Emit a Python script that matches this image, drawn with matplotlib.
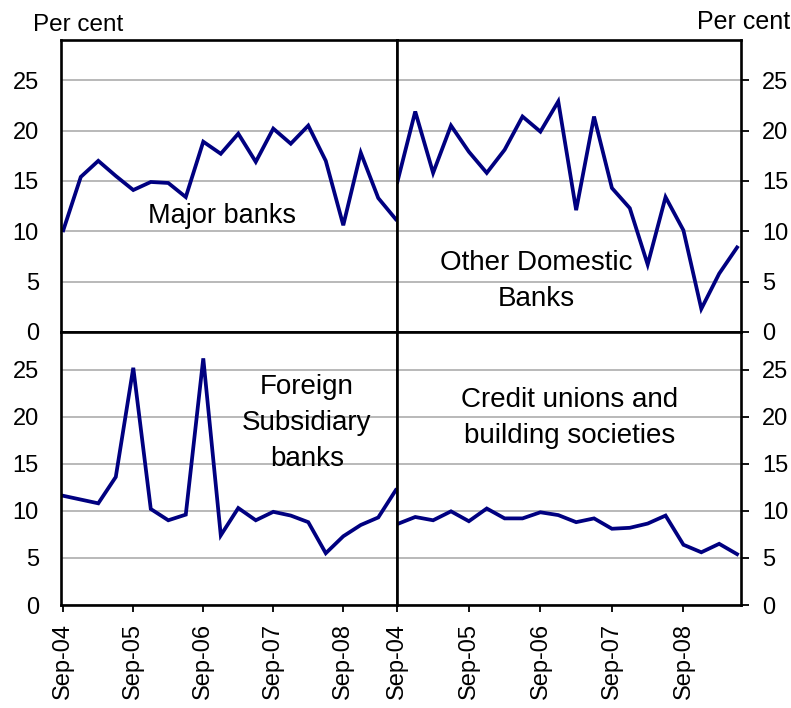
import matplotlib.pyplot as plt

plt.rcParams['font.family'] = ['Liberation Sans', 'DejaVu Sans']

quarters = ['Sep-04', 'Dec-04', 'Mar-05', 'Jun-05', 'Sep-05', 'Dec-05', 'Mar-06', 'Jun-06',
            'Sep-06', 'Dec-06', 'Mar-07', 'Jun-07', 'Sep-07', 'Dec-07', 'Mar-08', 'Jun-08',
            'Sep-08', 'Dec-08', 'Mar-09', 'Jun-09']

major = [10.1, 15.4, 17.0, 15.5, 14.1, 14.9, 14.8, 13.4, 18.9, 17.7,
         19.7, 16.9, 20.2, 18.7, 20.5, 17.0, 10.6, 17.8, 13.3, 11.2]
other_domestic = [14.9, 21.9, 15.8, 20.5, 17.9, 15.8, 18.1, 21.4, 19.9, 22.9,
                  12.1, 21.4, 14.3, 12.3, 6.7, 13.4, 10.1, 2.3, 5.8, 8.4]
foreign_sub = [11.6, 11.2, 10.8, 13.6, 25.2, 10.2, 9.0, 9.6, 26.2, 7.4,
               10.3, 9.0, 9.9, 9.5, 8.8, 5.5, 7.3, 8.5, 9.3, 12.2]
credit_unions = [8.6, 9.35, 9.0, 9.95, 8.9, 10.25, 9.2, 9.2, 9.85, 9.55,
                 8.8, 9.2, 8.1, 8.2, 8.65, 9.5, 6.4, 5.6, 6.5, 5.4]

yticks = [0, 5, 10, 15, 20, 25]
xtick_idx = [0, 4, 8, 12, 16]

LINE = '#000080'
W, H = 791, 708


def px_axes(fig, x0, x1, y0, y1):
    return fig.add_axes([x0 / W, 1 - y1 / H, (x1 - x0) / W, (y1 - y0) / H])


fig = plt.figure(figsize=(W / 100, H / 100), dpi=100, facecolor='w')
ax_tl = px_axes(fig, 61, 397, 40, 332)
ax_tr = px_axes(fig, 397, 741, 40, 332)
ax_bl = px_axes(fig, 61, 397, 332, 605)
ax_br = px_axes(fig, 397, 741, 332, 605)

panels = [
    (ax_tl, major, 'left', 'top'),
    (ax_tr, other_domestic, 'right', 'top'),
    (ax_bl, foreign_sub, 'left', 'bottom'),
    (ax_br, credit_unions, 'right', 'bottom'),
]

for ax, data, side, row in panels:
    ax.plot(range(len(data)), data, color=LINE, lw=2.7, solid_joinstyle='miter', zorder=3)
    ax.set_ylim(0, 29)
    if side == 'left':
        ax.set_xlim(-0.13, 19.07)
    else:
        ax.set_xlim(-0.02, 19.22)
    ax.set_yticks(yticks)
    ax.grid(axis='y', color='#a6a6a6', lw=1.1, zorder=1)
    for sp in ax.spines.values():
        sp.set_linewidth(1.9)
        sp.set_color('black')
        sp.set_zorder(4)
    if side == 'left':
        ax.tick_params(axis='y', left=True, right=False, labelleft=True, labelright=False,
                       length=0, pad=16, labelsize=17)
    else:
        ax.tick_params(axis='y', left=False, right=True, labelleft=False, labelright=True,
                       length=6, width=1.3, pad=9, labelsize=17, direction='out')
    if row == 'bottom':
        ax.set_xticks(xtick_idx)
        ax.set_xticklabels([quarters[i] for i in xtick_idx], rotation=90)
        ax.tick_params(axis='x', length=5, width=1.3, pad=8, labelsize=17, direction='out')
    else:
        ax.set_xticks([])

ax_tl.text(0.479, 0.397, 'Major banks', transform=ax_tl.transAxes,
           ha='center', va='center', fontsize=19.5)
ax_tr.text(0.404, 0.175, 'Other Domestic\nBanks', transform=ax_tr.transAxes,
           ha='center', va='center', fontsize=20, linespacing=1.52)
ax_bl.text(0.732, 0.667, 'Foreign\nSubsidiary\nbanks', transform=ax_bl.transAxes,
           ha='center', va='center', fontsize=20, linespacing=1.52)
ax_br.text(0.503, 0.685, 'Credit unions and\nbuilding societies', transform=ax_br.transAxes,
           ha='center', va='center', fontsize=20, linespacing=1.52)

fig.text(33 / W, 1 - 25 / H, 'Per cent', ha='left', va='center', fontsize=17.5)
fig.text(790 / W, 1 - 22 / H, 'Per cent', ha='right', va='center', fontsize=18)

plt.savefig('out.png', dpi=100)
